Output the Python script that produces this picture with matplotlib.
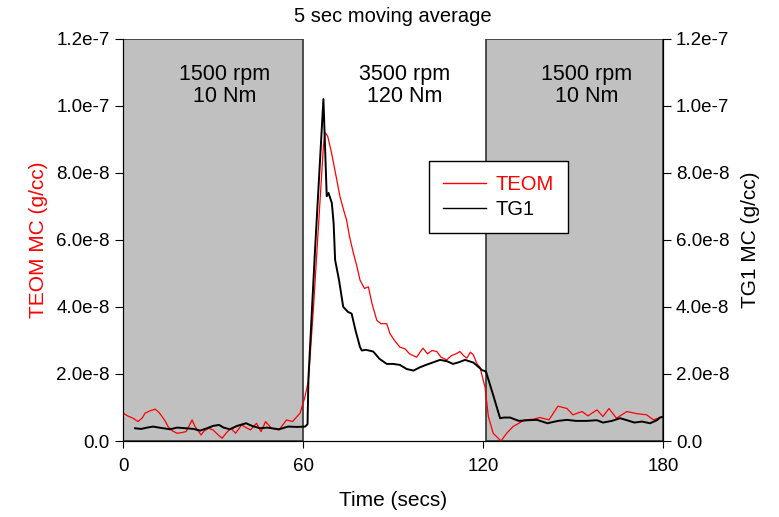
import matplotlib
matplotlib.use("Agg")
import matplotlib.pyplot as plt
from matplotlib.patches import Rectangle
from matplotlib.lines import Line2D
from matplotlib.ticker import FuncFormatter

plt.rcParams['font.family'] = ['Liberation Sans', 'DejaVu Sans']

# TEOM (em 1e-8 g/cc)
t_teom = [0, 1.5, 3.3, 5, 6.5, 7.3, 9, 10.7, 12, 13, 14, 15, 16.5, 18, 19.5, 21, 22, 23, 24, 26,
          27, 28.5, 30, 31.5, 33, 34.5, 36, 37.5, 39.5, 41, 42.5, 44.5, 46, 47.5, 49.5, 52, 54.5,
          56.5, 58, 59, 60.6, 61.8, 63.5, 65, 66.8, 67.3, 68.2, 69.5, 70.8, 72.3, 73.5, 74.5, 75.5,
          76.8, 78, 79, 80.5, 81.8, 83, 84.6, 86, 87.9, 89, 90.5, 92.3, 94, 95.5, 97.9, 99, 100,
          101.5, 103, 104.6, 106, 107.9, 109.5, 111, 112.3, 113.5, 114.6, 115.8, 116.8, 118, 119,
          120.7, 121.8, 123.4, 126, 127.9, 130, 132, 133.8, 136.8, 139, 142, 145, 148, 150, 153,
          155, 158, 160, 162, 164.5, 168, 171, 174.6, 176.8, 179, 180]
v_teom = [0.83, 0.75, 0.68, 0.58, 0.7, 0.83, 0.9, 0.95, 0.85, 0.73, 0.6, 0.43, 0.3, 0.23, 0.25, 0.28,
          0.45, 0.63, 0.43, 0.18, 0.3, 0.38, 0.33, 0.2, 0.08, 0.25, 0.38, 0.23, 0.48, 0.4, 0.33, 0.53,
          0.28, 0.58, 0.38, 0.33, 0.63, 0.58, 0.73, 0.83, 1.3, 1.8, 4.0, 6.2, 8.8, 9.2, 9.1, 8.6, 8.0,
          7.3, 6.9, 6.6, 6.1, 5.6, 5.2, 4.8, 4.55, 4.6, 4.1, 3.6, 3.5, 3.5, 3.2, 3.0, 2.8, 2.75, 2.6,
          2.5, 2.65, 2.77, 2.6, 2.7, 2.67, 2.5, 2.42, 2.55, 2.6, 2.67, 2.55, 2.47, 2.65, 2.57, 2.3,
          2.2, 1.6, 0.73, 0.23, 0.0, 0.23, 0.43, 0.53, 0.63, 0.65, 0.7, 0.63, 1.04, 0.97, 0.78, 0.88,
          0.75, 0.93, 0.73, 0.97, 0.68, 0.88, 0.82, 0.78, 0.63, 0.7, 0.72]

# TG1 (em 1e-8 g/cc)
t_tg1 = [4, 6, 8, 10, 12, 15.7, 18, 21, 23.5, 25.7, 28, 30, 32, 33.5, 35.6, 38, 41, 43, 45.7, 48,
         52, 55, 58, 60.7, 61.5, 61.8, 64, 66.8, 67.9, 68.5, 69.6, 70.2, 70.7, 72, 73.4, 75, 76.2,
         77.5, 79, 79.6, 81, 83.4, 85.5, 87.9, 90, 92.3, 94.5, 96.8, 99, 101, 103.5, 105.7, 108,
         110, 112, 114, 116.8, 119, 119.6, 121, 123.4, 125.7, 127, 129, 132, 135, 138, 141.5, 145,
         148, 151, 154.6, 158, 160, 163, 165.7, 168, 170.5, 173, 175.7, 178, 179, 180]
v_tg1 = [0.38, 0.36, 0.4, 0.43, 0.4, 0.35, 0.4, 0.38, 0.36, 0.31, 0.38, 0.45, 0.48, 0.4, 0.35, 0.45,
         0.53, 0.45, 0.38, 0.4, 0.35, 0.43, 0.42, 0.43, 0.5, 1.87, 5.7, 10.2, 7.3, 7.4, 7.1, 6.5,
         5.4, 4.8, 4.0, 3.85, 3.8, 3.3, 2.8, 2.7, 2.72, 2.67, 2.45, 2.3, 2.3, 2.27, 2.15, 2.1, 2.2,
         2.27, 2.35, 2.42, 2.38, 2.3, 2.35, 2.42, 2.34, 2.17, 2.12, 2.07, 1.37, 0.68, 0.7, 0.7, 0.6,
         0.62, 0.63, 0.53, 0.6, 0.63, 0.6, 0.6, 0.62, 0.55, 0.6, 0.68, 0.62, 0.55, 0.58, 0.53, 0.62,
         0.7, 0.72]

# regioes de operacao do motor
regioes = [(0, 60, "1500 rpm\n10 Nm"), (60, 120, "3500 rpm\n120 Nm"), (121, 180, "1500 rpm\n10 Nm")]
regioes_cinza = [0, 2]

escala = 1e-8
teom = [v * escala for v in v_teom]
tg1 = [v * escala for v in v_tg1]

fig = plt.figure(figsize=(7.79, 5.17), dpi=100)
ax = fig.add_axes([0.158, 0.147, 0.693, 0.778])
ax2 = ax.twinx()

ymax = 1.2e-7
for i in regioes_cinza:
    x0, x1, _ = regioes[i]
    ax.add_patch(Rectangle((x0, 0), x1 - x0, ymax, facecolor='#c0c0c0',
                           edgecolor='#333333', linewidth=1.2, zorder=0))

for x0, x1, txt in regioes:
    ax.text((x0 + x1) / 2 + 4, 10.6e-8, txt, ha='center', va='center', fontsize=15.5,
            linespacing=1.05)

ax.plot(t_teom, teom, color='red', linewidth=0.9)
ax2.plot(t_tg1, tg1, color='black', linewidth=1.4)

fmt = FuncFormatter(lambda v, p: "0.0" if abs(v) < 1e-12 else ("%.1e" % v).replace("e-0", "e-"))
for a in (ax, ax2):
    a.set_xlim(0, 180)
    a.set_ylim(0, ymax)
    a.set_yticks([i * 2e-8 for i in range(7)])
    a.yaxis.set_major_formatter(fmt)
    a.spines['top'].set_visible(False)
    a.tick_params(direction='out', length=6, labelsize=13.5)
ax.set_xticks([0, 60, 120, 180])
ax.tick_params(axis='x', length=5, pad=7.5)

ax.set_title("5 sec moving average", fontsize=14.5, pad=12)
ax.set_xlabel("Time (secs)", fontsize=15, labelpad=11)
ax.set_ylabel("TEOM MC (g/cc)", fontsize=15, color='red', labelpad=6)
ax2.set_ylabel("TG1 MC (g/cc)", fontsize=15, labelpad=8)

# legenda com linhas finas como no original
h1 = Line2D([], [], color='red', linewidth=1.0)
h2 = Line2D([], [], color='black', linewidth=1.0)
leg = ax2.legend([h1, h2], ['TEOM', 'TG1'], loc='upper left', bbox_to_anchor=(0.567, 0.696),
                 borderaxespad=0, fancybox=False, edgecolor='black', fontsize=14.5,
                 handlelength=2.1, handletextpad=0.5, labelspacing=0.3, framealpha=1,
                 borderpad=0.7)
leg.get_frame().set_linewidth(1.0)
leg.get_texts()[0].set_color('red')

plt.savefig("out.png", dpi=100)
